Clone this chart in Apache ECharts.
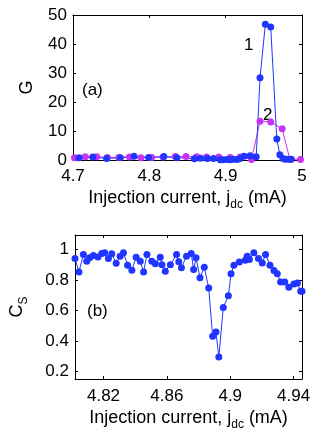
<!DOCTYPE html>
<html>
<head>
<meta charset="utf-8">
<script src="https://cdn.jsdelivr.net/npm/echarts@6/dist/echarts.min.js"></script>
<style>
  html, body { margin: 0; padding: 0; background: #fff; }
  #chart { width: 327px; height: 436px; }
</style>
</head>
<body>
<div id="chart"></div>
<script>
// panel (a): G versus injection current
const gBlueX = [4.708, 4.726, 4.744, 4.762, 4.780, 4.799, 4.819, 4.836, 4.859, 4.867, 4.876, 4.884, 4.893, 4.897, 4.902, 4.906, 4.910, 4.915, 4.919, 4.924, 4.932, 4.940, 4.945, 4.952, 4.959, 4.967, 4.971, 4.975, 4.978, 4.982, 4.986]
const gBlueY = [0.8, 1.0, 0.5, 0.8, 1.3, 0.9, 1.2, 0.8, 0.4, 0.6, 0.5, 0.5, 0.1, 0.1, 0.2, 0.1, 0.3, 0.2, 0.5, 1.3, 1.5, 1.1, 28.4, 46.8, 45.9, 7.2, 1.8, 0.5, 0.3, 0.3, 0.3]
const gMagX = [4.702, 4.716, 4.731, 4.745, 4.760, 4.774, 4.789, 4.803, 4.818, 4.834, 4.848, 4.862, 4.875, 4.891, 4.906, 4.919, 4.934, 4.945, 4.959, 4.974, 4.984, 4.998]
const gMagY = [0.8, 1.1, 1.1, 0.9, 0.9, 1.0, 0.8, 0.9, 1.0, 1.2, 1.2, 1.1, 1.0, 1.0, 0.9, 1.0, 0.2, 13.4, 13.1, 10.8, 0.3, 0.2]

// panel (b): C_S versus injection current
const csX = [4.802, 4.8045, 4.8073, 4.8094, 4.8112, 4.8136, 4.8165, 4.8189, 4.8207, 4.8231, 4.8252, 4.828, 4.8305, 4.8326, 4.8352, 4.8379, 4.8406, 4.8432, 4.8453, 4.8474, 4.8505, 4.8527, 4.8558, 4.8569, 4.859, 4.8622, 4.8661, 4.8675, 4.8692, 4.8724, 4.8754, 4.8769, 4.8784, 4.8809, 4.8836, 4.8864, 4.8889, 4.891, 4.8928, 4.8956, 4.8988, 4.9005, 4.9023, 4.9057, 4.9095, 4.9107, 4.9121, 4.9149, 4.9178, 4.9202, 4.9223, 4.9251, 4.9276, 4.9297, 4.9318, 4.9344, 4.937, 4.9402, 4.9424, 4.9445, 4.9453]
const csY = [0.94, 0.853, 0.967, 0.923, 0.945, 0.96, 0.95, 0.974, 0.978, 0.94, 0.972, 0.91, 0.956, 0.978, 0.897, 0.864, 0.949, 0.923, 0.853, 0.967, 0.923, 0.906, 0.949, 0.9, 0.857, 0.9, 0.967, 0.919, 0.88, 0.956, 0.974, 0.868, 0.945, 0.814, 0.884, 0.748, 0.43, 0.458, 0.294, 0.62, 0.697, 0.84, 0.897, 0.917, 0.93, 0.956, 0.934, 0.978, 0.94, 0.912, 0.967, 0.897, 0.862, 0.84, 0.787, 0.787, 0.752, 0.774, 0.78, 0.726, 0.726]

const topXTicks = [4.7, 4.8, 4.9, 5]
const topYTicks = [0, 10, 20, 30, 40, 50]
const botXTicks = [4.82, 4.86, 4.9, 4.94]
const botYTicks = [0.2, 0.4, 0.6, 0.8, 1]

const BLUE = '#2035ff'
const MAGENTA = '#c634f2'
const FONT = 'Liberation Sans'

const pairs = (xs, ys) => xs.map((x, i) => [x, ys[i]])

const chart = echarts.init(document.getElementById('chart'), null, { renderer: 'canvas' })

const labelStyle = { color: '#000', fontSize: 17, fontFamily: FONT }
const nameRich = {
  sub: { fontSize: 12, fontFamily: FONT, color: '#000', padding: [14, 0, 0, 0] }
}

function xAxisFor(gridIndex, min, max, ticks, margin, gap) {
  return [
    {
      type: 'value', gridIndex, min, max, position: 'bottom',
      name: 'Injection current, j{sub|dc} (mA)',
      nameLocation: 'middle', nameGap: gap,
      nameTextStyle: { color: '#000', fontSize: 18, fontFamily: FONT, rich: nameRich },
      axisLine: { show: true, onZero: false, lineStyle: { color: '#000', width: 1 } },
      axisTick: { show: true, inside: true, length: 3, customValues: ticks, lineStyle: { color: '#000' } },
      axisLabel: { ...labelStyle, margin, customValues: ticks, formatter: v => String(+v.toFixed(2)) },
      splitLine: { show: false }
    },
    {
      type: 'value', gridIndex, min, max, position: 'top',
      axisLine: { show: true, onZero: false, lineStyle: { color: '#000', width: 1 } },
      axisTick: { show: true, inside: true, length: 3, customValues: ticks, lineStyle: { color: '#000' } },
      axisLabel: { show: false, customValues: ticks },
      splitLine: { show: false }
    }
  ]
}

function yAxisFor(gridIndex, min, max, ticks, name, gap) {
  return [
    {
      type: 'value', gridIndex, min, max, position: 'left',
      name, nameLocation: 'middle', nameGap: gap, nameRotate: 90,
      nameTextStyle: { color: '#000', fontSize: 18, fontFamily: FONT, rich: nameRich },
      axisLine: { show: true, onZero: false, lineStyle: { color: '#000', width: 1 } },
      axisTick: { show: true, inside: true, length: 3, customValues: ticks, lineStyle: { color: '#000' } },
      axisLabel: { ...labelStyle, margin: 6, customValues: ticks, formatter: v => String(+v.toFixed(2)) },
      splitLine: { show: false }
    },
    {
      type: 'value', gridIndex, min, max, position: 'right',
      axisLine: { show: true, onZero: false, lineStyle: { color: '#000', width: 1 } },
      axisTick: { show: true, inside: true, length: 3, customValues: ticks, lineStyle: { color: '#000' } },
      axisLabel: { show: false, customValues: ticks },
      splitLine: { show: false }
    }
  ]
}

function lineSeries(xi, yi, data, color, size) {
  return {
    type: 'line', xAxisIndex: xi, yAxisIndex: yi, data,
    symbol: 'circle', symbolSize: size, showSymbol: true,
    lineStyle: { color, width: 1 },
    itemStyle: { color },
    animation: false, silent: true
  }
}

const option = {
  animation: false,
  textStyle: { fontFamily: FONT },
  grid: [
    { left: 73, top: 15, width: 229, height: 145, show: false },
    { left: 73, top: 235, width: 229, height: 144, show: false }
  ],
  xAxis: [
    ...xAxisFor(0, 4.7, 5, topXTicks, 8, 25),
    ...xAxisFor(1, 4.802, 4.9453, botXTicks, 9, 26)
  ],
  yAxis: [
    ...yAxisFor(0, 0, 50, topYTicks, 'G', 37),
    ...yAxisFor(1, 0.15, 1.095, botYTicks, 'C{sub|S}', 45)
  ],
  series: [
    lineSeries(0, 0, pairs(gMagX, gMagY), MAGENTA, 7),
    lineSeries(0, 0, pairs(gBlueX, gBlueY), BLUE, 7),
    lineSeries(2, 2, pairs(csX, csY), BLUE, 7)
  ],
  graphic: [
    { type: 'text', left: 82, top: 82, style: { text: '(a)', fill: '#000', font: '17px ' + FONT } },
    { type: 'text', left: 244, top: 37, style: { text: '1', fill: '#000', font: '17px ' + FONT } },
    { type: 'text', left: 263, top: 107, style: { text: '2', fill: '#000', font: '17px ' + FONT } },
    { type: 'text', left: 87, top: 303, style: { text: '(b)', fill: '#000', font: '17px ' + FONT } }
  ]
}

chart.setOption(option)
</script>
</body>
</html>
